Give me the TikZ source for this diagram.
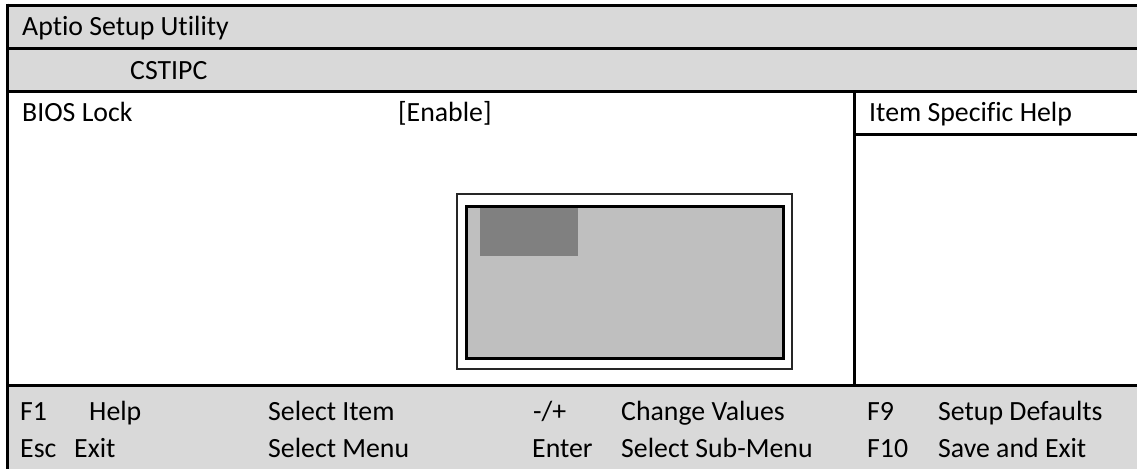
\documentclass[tikz,border=0pt]{standalone}
\usepackage{fontspec}
\setmainfont{Carlito}[Ligatures=NoCommon]
\definecolor{barGray}{HTML}{D9D9D9}
\definecolor{popGray}{HTML}{BFBFBF}
\definecolor{selGray}{HTML}{808080}
\tikzset{
  lbl/.style={anchor=base west, inner sep=0pt, font=\fontsize{27.8}{33}\selectfont},
  frameline/.style={line width=3pt, black},
}
\begin{document}
\begin{tikzpicture}[x=1pt,y=-1pt]
\useasboundingbox (0,0) rectangle (1137,469);
\fill[white] (0,0) rectangle (1137,469);
% bars
\fill[barGray] (7,5) rectangle (1137,91);
\fill[barGray] (7,385) rectangle (1137,469);
% frame lines
\draw[frameline] (7,5) -- (1137,5);
\draw[frameline] (7,48.5) -- (1137,48.5);
\draw[frameline] (7,91) -- (1137,91);
\draw[frameline] (7,385) -- (1137,385);
\draw[frameline] (7,3.5) -- (7,469);
\draw[frameline] (854,91) -- (854,385);
\draw[frameline] (854,134) -- (1137,134);
% popup
\draw[line width=2pt, black!85] (457,194) rectangle (792,369);
\draw[line width=3pt, black, fill=popGray] (466,206) rectangle (783,358);
\fill[selGray] (480,207.5) rectangle (578,256);
% texts
\node[lbl] (title) at (22,35.7) {Aptio Setup Utility};
\node[lbl] (tab) at (130,79.5) {CSTIPC};
\node[lbl] (item) at (22,121) {BIOS Lock};
\node[lbl] (val) at (398,121) {[Enable]};
\node[lbl] (help) at (869,121) {Item Specific Help};
\node[lbl] (k1) at (20,420) {F1};
\node[lbl] (d1) at (89,420) {Help};
\node[lbl] (d2) at (268,420) {Select Item};
\node[lbl] (k3) at (533,420) {-/+};
\node[lbl] (d3) at (621,420) {Change Values};
\node[lbl] (k4) at (867,420) {F9};
\node[lbl] (d4) at (938,420) {Setup Defaults};
\node[lbl] (k5) at (20,457) {Esc};
\node[lbl] (d5) at (74,457) {Exit};
\node[lbl] (d6) at (268,457) {Select Menu};
\node[lbl] (k7) at (532,457) {Enter};
\node[lbl] (d7) at (621,457) {Select Sub-Menu};
\node[lbl] (k8) at (867,457) {F10};
\node[lbl] (d8) at (938,457) {Save and Exit};
\end{tikzpicture}
\end{document}
